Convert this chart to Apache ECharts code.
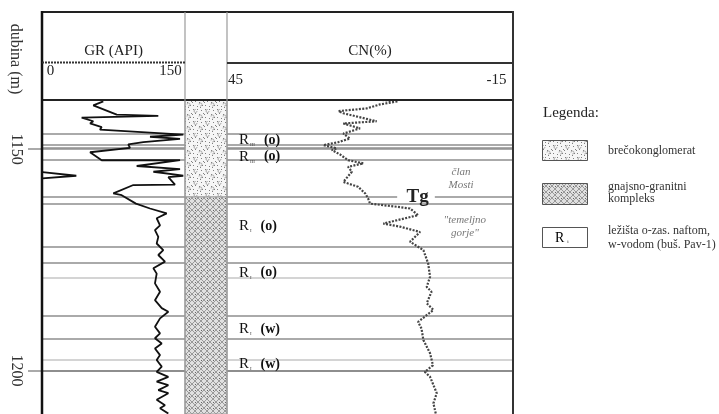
<!DOCTYPE html>
<html>
<head>
<meta charset="utf-8">
<script src="https://cdn.jsdelivr.net/npm/echarts@6/dist/echarts.min.js"></script>
<style>
html,body{margin:0;padding:0;background:#fff;}
#c{width:719px;height:414px;}
</style>
</head>
<body>
<div id="c"></div>
<script>
// Depth window of the log section (m)
const depthTop = 1138.9;
const depthBottom = 1209.8;
const depthTicks = [1150, 1200];

// Track scales
const grScale = [0, 150];
const cnScale = [45, -15];

// Gamma ray log: [GR (API), depth (m)]
const grCurve = [
  [64.3,1139.2],[53.8,1140.1],[78.4,1142.2],[122,1142.5],[41.6,1142.9],[53.8,1143.7],
  [50.4,1144.2],[62.6,1145.0],[60.8,1145.6],[148.2,1146.7],[113.3,1147.2],[144.8,1147.7],
  [106.3,1148.4],[90.5,1148.9],[92.3,1149.7],[50.4,1150.7],[62.6,1152.5],[144.8,1152.5],
  [99.3,1153.8],[144.8,1154.5],[116.8,1155.1],[148.2,1156.0],[132.5,1156.3],[139.5,1158.0],
  [95.8,1158.1],[74.8,1160.0],[83.6,1160.4],[98.5,1162.3],[113.3,1163.4],[130.8,1164.5],
  [120.3,1165.6],[123.8,1167.2],[118.5,1168.3],[122,1169.8],[120.3,1171.3],[127.2,1172.8],
  [122,1173.9],[129,1175.4],[116.8,1176.9],[120.3,1178.1],[118.5,1180.3],[123.8,1182.2],
  [118.5,1184.1],[125.6,1185.9],[132.5,1186.7],[123.8,1188.2],[118.5,1190.1],[123.8,1191.6],
  [118.5,1192.7],[125.6,1193.9],[118.5,1195.0],[123.8,1196.5],[120.3,1197.6],[125.6,1199.1],
  [120.3,1200.3],[132.5,1201.4],[120.3,1202.5],[132.5,1203.3],[122,1204.4],[132.5,1205.1],
  [120.3,1206.6],[129,1207.8],[123.8,1208.5],[132.5,1209.7]
];
// GR values above 150 API, re-plotted from the left edge of the track
const grWrap = [[0.5,1155.2],[36,1156.0],[0.5,1156.6]];

// Neutron log: [CN (%), depth (m)]
const cnCurve = [
  [12.5,1138.9],[9.1,1139.2],[12.9,1139.9],[15.7,1140.8],[21.6,1141.4],[20.6,1141.9],[13.6,1143.7],
  [20.6,1144.2],[17.1,1145.3],[20.6,1146.5],[19.2,1147.6],[21.6,1148.4],[24.8,1149.1],
  [22.0,1149.8],[23.0,1150.2],[21.3,1151.2],[19.6,1152.5],[16.4,1153.2],[19.6,1154.0],
  [18.8,1155.1],[20.6,1157.4],[17.5,1158.5],[16.0,1160.0],[15.4,1161.1],[15.0,1162.3],
  [9.4,1163.0],[6.6,1163.4],[4.9,1164.9],[12.2,1166.8],[8.7,1167.5],[4.5,1168.7],
  [6.6,1170.9],[3.8,1172.8],[2.8,1175.8],[2.4,1178.8],[3.1,1181.1],[2.1,1182.2],
  [3.1,1184.8],[1.7,1186.3],[4.9,1189.0],[4.2,1190.5],[3.8,1193.1],[2.4,1196.1],
  [1.8,1198.8],[3.5,1200.3],[2.4,1201.4],[1.0,1205.1],[1.7,1207.4],[1.2,1209.7]
];

// Bed boundaries (m)
const beds = [1146.6,1148.9,1149.7,1150,1152.5,1160.8,1162.4,1172.1,1175.7,1179.1,1187.6,1192.8,1197.6,1200];
const lightBeds = [1179.1,1197.6];

// Top of basement (Tg) and the gap left in the CN track for its label
const tgDepth = 1160.8;
const tgGap = [9.3, 1.4];

// Lithology column: [top (m), bottom (m), pattern index]
const lithology = [
  [1138.9, 1160.8, 0],
  [1160.8, 1209.8, 1]
];
const lithologyNames = ['brečokonglomerat', 'gnajsno-granitni\nkompleks'];

// Reservoir marks: [subscript, fluid, depth (m)]
const reservoirs = [
  ['III','o',1148.0],
  ['III','o',1151.7],
  ['I','o',1167.4],
  ['I','o',1177.9],
  ['I','w',1190.7],
  ['I','w',1198.6]
];

// Formation notes: [text, CN position, depth (m)]
const notes = [
  ['član\nMosti', -4.1, 1156.7],
  ['"temeljno\ngorje"', -4.9, 1167.6]
];

const SERIF = '"Liberation Serif","DejaVu Serif",serif';

// Fill patterns for the lithology column
function brecciaPattern() {
  const c = document.createElement('canvas');
  c.width = 12; c.height = 12;
  const g = c.getContext('2d');
  g.fillStyle = '#f6f6f6'; g.fillRect(0, 0, 12, 12);
  g.fillStyle = '#808080';
  [[1,1],[5,1],[9,2],[11,5],[3,5],[7,6],[10,9],[1,9],[5,10],[8,11],[0,6]].forEach(p => g.fillRect(p[0], p[1], 1, 1));
  g.strokeStyle = '#999'; g.lineWidth = 0.8;
  g.beginPath(); g.arc(3.5, 3, 1.5, 0, Math.PI * 1.6); g.stroke();
  g.beginPath(); g.arc(8.5, 8.5, 1.5, Math.PI, Math.PI * 2.6); g.stroke();
  return c;
}
function gneissPattern() {
  const c = document.createElement('canvas');
  c.width = 6; c.height = 6;
  const g = c.getContext('2d');
  g.fillStyle = '#e0e0e0'; g.fillRect(0, 0, 6, 6);
  g.strokeStyle = '#868686'; g.lineWidth = 0.8;
  g.beginPath();
  g.moveTo(0, 0); g.lineTo(6, 6);
  g.moveTo(6, 0); g.lineTo(0, 6);
  g.stroke();
  g.fillStyle = '#666'; g.fillRect(3, 0, 1, 1);
  return c;
}
const patterns = [brecciaPattern(), gneissPattern()];

const chart = echarts.init(document.getElementById('c'), null, {renderer: 'canvas'});

const yBase = {
  type: 'value', inverse: true, min: depthTop, max: depthBottom,
  splitLine: {show: false}, axisLine: {show: false}, axisLabel: {show: false}, axisTick: {show: false}
};

function bedLine(d) {
  return {
    color: lightBeds.includes(d) ? '#c6c6c6' : '#8e8e8e',
    width: d === 1200 ? 2 : 1.5,
    type: 'solid'
  };
}

const grBedLines = beds.map(d => ({yAxis: d, lineStyle: bedLine(d)}));
const cnBedLines = beds.filter(d => d !== tgDepth).map(d => ({yAxis: d, lineStyle: bedLine(d)}));
cnBedLines.push([{coord: [cnScale[0], tgDepth], lineStyle: bedLine(tgDepth)}, {coord: [tgGap[0], tgDepth]}]);
cnBedLines.push([{coord: [tgGap[1], tgDepth], lineStyle: bedLine(tgDepth)}, {coord: [cnScale[1], tgDepth]}]);

const markLineBase = {silent: true, symbol: ['none', 'none'], label: {show: false}, animation: false, emphasis: {disabled: true}};

function legendBox(x, y, w, h, fill) {
  return {type: 'rect', shape: {x: x, y: y, width: w, height: h}, style: {fill: fill, stroke: '#555', lineWidth: 1}, z: 100};
}
function txt(x, y, text, extra) {
  return Object.assign({type: 'text', x: x, y: y, z: 100,
    style: Object.assign({text: text, font: '12px ' + SERIF, fill: '#333', textVerticalAlign: 'middle'}, extra || {})});
}
function hline(x1, x2, y, color, w, dash) {
  return {type: 'line', shape: {x1: x1, y1: y, x2: x2, y2: y}, style: {stroke: color, lineWidth: w, lineDash: dash || null}, z: 100};
}
function vline(x, y1, y2, color, w) {
  return {type: 'line', shape: {x1: x, y1: y1, x2: x, y2: y2}, style: {stroke: color, lineWidth: w}, z: 100};
}

const labelSeries = {
  type: 'scatter', xAxisIndex: 2, yAxisIndex: 2, symbolSize: 0, silent: true, z: 6,
  itemStyle: {color: '#000', opacity: 1},
  emphasis: {disabled: true}
};

const option = {
  animation: false,
  backgroundColor: '#fff',
  grid: [
    {left: 42, top: 100, width: 143, height: 314},
    {left: 185, top: 100, width: 42, height: 314},
    {left: 227, top: 100, width: 286, height: 314}
  ],
  xAxis: [
    {
      gridIndex: 0, type: 'value', position: 'top', min: grScale[0], max: grScale[1],
      name: 'GR (API)', nameLocation: 'middle', nameGap: 41,
      nameTextStyle: {fontFamily: SERIF, fontSize: 15, color: '#222'},
      splitLine: {show: false}, axisLine: {show: false}, axisTick: {show: false},
      axisLabel: {
        customValues: grScale, margin: 21,
        formatter: v => v === grScale[0] ? '{a|' + v + '}' : '{b|' + v + '}',
        rich: {
          a: {fontFamily: SERIF, fontSize: 15, color: '#222', padding: [0, 0, 0, 17]},
          b: {fontFamily: SERIF, fontSize: 15, color: '#222', padding: [0, 29, 0, 0]}
        }
      }
    },
    {gridIndex: 1, type: 'value', min: 0, max: 1, show: false},
    {
      gridIndex: 2, type: 'value', position: 'top', inverse: true, min: cnScale[1], max: cnScale[0],
      name: 'CN(%)', nameLocation: 'middle', nameGap: 41,
      nameTextStyle: {fontFamily: SERIF, fontSize: 15, color: '#222'},
      splitLine: {show: false}, axisLine: {show: false}, axisTick: {show: false},
      axisLabel: {
        customValues: cnScale, margin: 12,
        formatter: v => v === cnScale[0] ? '{a|' + v + '}' : '{b|' + v + '}',
        rich: {
          a: {fontFamily: SERIF, fontSize: 15, color: '#222', padding: [0, 0, 0, 17]},
          b: {fontFamily: SERIF, fontSize: 15, color: '#222', padding: [0, 33, 0, 0]}
        }
      }
    }
  ],
  yAxis: [
    Object.assign({}, yBase, {
      gridIndex: 0,
      axisTick: {show: true, customValues: depthTicks, length: 14, lineStyle: {color: '#8e8e8e', width: 1.5}},
      axisLabel: {show: true, customValues: depthTicks, rotate: -90, margin: 18,
        formatter: v => String(v),
        fontFamily: SERIF, fontSize: 16, color: '#333'}
    }),
    Object.assign({}, yBase, {gridIndex: 1}),
    Object.assign({}, yBase, {gridIndex: 2})
  ],
  series: [
    {
      type: 'custom', xAxisIndex: 1, yAxisIndex: 1, z: 4,
      encode: {x: -1, y: [0, 1]},
      data: lithology,
      renderItem: function (params, api) {
        const p0 = api.coord([0, api.value(0)]);
        const p1 = api.coord([1, api.value(1)]);
        return {
          type: 'rect',
          shape: {x: p0[0], y: p0[1], width: p1[0] - p0[0], height: p1[1] - p0[1]},
          style: {fill: {image: patterns[api.value(2)], repeat: 'repeat'}, stroke: '#9a9a9a', lineWidth: 1}
        };
      }
    },
    {
      type: 'line', xAxisIndex: 0, yAxisIndex: 0, data: grCurve, symbol: 'none', z: 5,
      lineStyle: {color: '#111', width: 1.8}, silent: true,
      markLine: Object.assign({}, markLineBase, {data: grBedLines})
    },
    {
      type: 'line', xAxisIndex: 0, yAxisIndex: 0, data: grWrap, symbol: 'none', z: 5,
      lineStyle: {color: '#111', width: 1.8}, silent: true
    },
    {
      type: 'line', xAxisIndex: 2, yAxisIndex: 2, data: cnCurve, symbol: 'none', z: 5,
      lineStyle: {color: '#444', width: 2.2, type: [2, 1.4]}, silent: true,
      markLine: Object.assign({}, markLineBase, {data: cnBedLines})
    },
    Object.assign({}, labelSeries, {
      data: reservoirs.map(r => ({
        value: [42.5, r[2]],
        label: {formatter: '{r|R}{s|' + r[0] + '}{f|(' + r[1] + ')}'}
      })),
      label: {
        show: true, position: 'right', distance: 0, color: '#111',
        rich: {
          r: {fontFamily: SERIF, fontSize: 15, color: '#111'},
          s: {fontFamily: SERIF, fontSize: 5, color: '#444', padding: [9, 9, 0, 1]},
          f: {fontFamily: SERIF, fontSize: 14, fontWeight: 'bold', color: '#111'}
        }
      }
    }),
    Object.assign({}, labelSeries, {
      data: [{value: [5.0, tgDepth], name: 'Tg'}],
      label: {show: true, position: 'inside', formatter: '{b}',
        fontFamily: SERIF, fontSize: 19, fontWeight: 'bold', color: '#222'}
    }),
    Object.assign({}, labelSeries, {
      data: notes.map(n => ({value: [n[1], n[2]], name: n[0]})),
      label: {show: true, position: 'inside', formatter: '{b}', align: 'center',
        fontFamily: SERIF, fontSize: 11, fontStyle: 'italic', color: '#777', lineHeight: 13}
    })
  ],
  graphic: [
    // frame of the log
    hline(42, 514, 12, '#222', 2),
    hline(42, 514, 100, '#222', 2),
    vline(42, 11, 414, '#111', 2.5),
    vline(513, 11, 414, '#333', 2),
    vline(185, 12, 414, '#9a9a9a', 1.2),
    vline(227, 12, 414, '#9a9a9a', 1.2),
    hline(42, 185, 62.5, '#333', 2, [2, 1]),
    hline(227, 513, 63, '#333', 2),
    // depth axis title
    {type: 'text', x: 15.5, y: 59, rotation: -Math.PI / 2, z: 100,
      style: {text: 'dubina (m)', font: '16px ' + SERIF, fill: '#333', textAlign: 'center', textVerticalAlign: 'middle'}},
    // legend
    txt(543, 113, 'Legenda:', {font: '15px ' + SERIF, fill: '#222'}),
    legendBox(542.5, 140.5, 45, 20, {image: patterns[0], repeat: 'repeat'}),
    txt(608, 151, lithologyNames[0]),
    legendBox(542.5, 183.5, 45, 21, {image: patterns[1], repeat: 'repeat'}),
    txt(608, 193, lithologyNames[1], {lineHeight: 12}),
    legendBox(542.5, 227.5, 45, 20, '#fff'),
    {type: 'text', x: 555, y: 238, z: 100,
      style: {text: '{r|R}{s|i}', textVerticalAlign: 'middle',
        rich: {r: {fontFamily: SERIF, fontSize: 14, color: '#333'}, s: {fontFamily: SERIF, fontSize: 5, color: '#444', padding: [8, 0, 0, 3]}}}},
    txt(608, 238, 'ležišta o-zas. naftom,\nw-vodom (buš. Pav-1)', {lineHeight: 14})
  ]
};

chart.setOption(option);
</script>
</body>
</html>
